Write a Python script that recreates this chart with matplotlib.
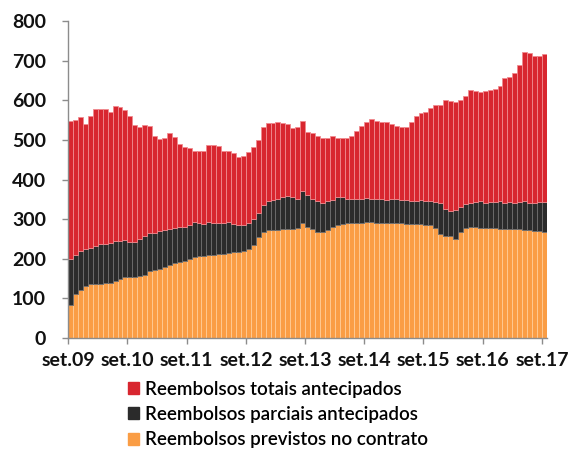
import numpy as np
import matplotlib.pyplot as plt
from matplotlib.patches import Patch

plt.rcParams['font.family'] = ['Lato', 'DejaVu Sans']

# meses de set.09 a set.17 (97 barras)
ticks_lbl = ['set.09', 'set.10', 'set.11', 'set.12', 'set.13',
             'set.14', 'set.15', 'set.16', 'set.17']

previstos = [82, 110, 120, 130, 135, 137, 137, 138, 140, 145, 150, 153,
             155, 155, 157, 160, 168, 172, 175, 178, 185, 190, 192, 195,
             200, 204, 206, 208, 209, 210, 212, 213, 215, 216, 218, 220,
             224, 235, 255, 268, 272, 272, 273, 274, 275, 276, 278, 290,
             280, 275, 268, 268, 272, 280, 285, 288, 290, 290, 291, 291,
             292, 292, 291, 291, 290, 290, 290, 290, 289, 289, 288, 287,
             286, 284, 278, 262, 258, 257, 250, 268, 278, 280, 279, 278,
             278, 277, 277, 276, 276, 276, 275, 274, 273, 272, 271, 270,
             268]

parciais = [118, 100, 100, 95, 93, 95, 99, 100, 100, 99, 96, 94,
            88, 88, 93, 98, 97, 94, 95, 94, 90, 88, 88, 85,
            85, 88, 84, 80, 83, 80, 78, 77, 77, 71, 66, 66,
            66, 65, 60, 67, 73, 76, 77, 81, 83, 79, 74, 82,
            80, 77, 77, 74, 73, 68, 70, 67, 62, 62, 59, 61,
            62, 58, 61, 59, 58, 60, 60, 58, 59, 58, 58, 61,
            59, 62, 66, 78, 67, 63, 72, 62, 60, 62, 64, 67,
            64, 67, 66, 69, 66, 68, 65, 69, 72, 70, 69, 74,
            75]

totais = [347, 340, 337, 316, 332, 347, 343, 340, 330, 341, 337, 328,
          317, 294, 283, 279, 270, 243, 233, 233, 243, 230, 210, 202,
          195, 180, 181, 184, 194, 196, 195, 182, 180, 179, 173, 174,
          180, 182, 184, 197, 198, 195, 195, 188, 182, 175, 181, 177,
          160, 166, 165, 163, 160, 163, 150, 150, 153, 158, 172, 183,
          191, 202, 196, 195, 197, 190, 186, 184, 184, 198, 214, 219,
          225, 234, 243, 248, 277, 278, 274, 270, 274, 283, 281, 277,
          281, 283, 285, 292, 314, 316, 330, 347, 377, 378, 372, 368,
          375]

c_red = '#D8262F'
c_blk = '#2B2B2B'
c_org = '#FA9D45'

x = np.arange(len(previstos))
b2 = np.array(previstos) + np.array(parciais)

fig = plt.figure(figsize=(5.83, 4.5), dpi=100)
ax = fig.add_axes([0.117, 0.249, 0.821, 0.704])

# bordas claras entre barras, como no original
ax.bar(x, previstos, width=1.0, align='edge', color=c_org, edgecolor='#FFCB96', linewidth=0.6)
ax.bar(x, parciais, bottom=previstos, width=1.0, align='edge', color=c_blk, edgecolor='#6E6E6E', linewidth=0.6)
ax.bar(x, totais, bottom=b2, width=1.0, align='edge', color=c_red, edgecolor='#F08A8F', linewidth=0.6)

ax.set_xlim(0, 97)
ax.set_ylim(0, 800)
ax.set_yticks(range(0, 801, 100))
ax.set_xticks(range(0, 97, 12))
ax.set_xticklabels(ticks_lbl)

for s in ['top', 'right']:
    ax.spines[s].set_visible(False)
for s in ['left', 'bottom']:
    ax.spines[s].set_color('#8c8c8c')
    ax.spines[s].set_linewidth(1.0)
ax.tick_params(axis='both', colors='#8c8c8c', length=4, width=1.0)
ax.tick_params(axis='y', pad=12)
ax.tick_params(axis='x', pad=6)
for lbl in ax.get_xticklabels() + ax.get_yticklabels():
    lbl.set_color('#111111')
    lbl.set_fontsize(14)
    lbl.set_fontweight('bold')

handles = [Patch(color=c_red, label='Reembolsos totais antecipados'),
           Patch(color=c_blk, label='Reembolsos parciais antecipados'),
           Patch(color=c_org, label='Reembolsos previstos no contrato')]
fig.legend(handles=handles, loc='lower left', bbox_to_anchor=(0.19, -0.034),
           frameon=False, handlelength=0.6, handleheight=0.6, handletextpad=0.35,
           labelspacing=0.45, prop={'size': 13.5, 'weight': 'semibold'})

fig.savefig('out.png', dpi=100)
